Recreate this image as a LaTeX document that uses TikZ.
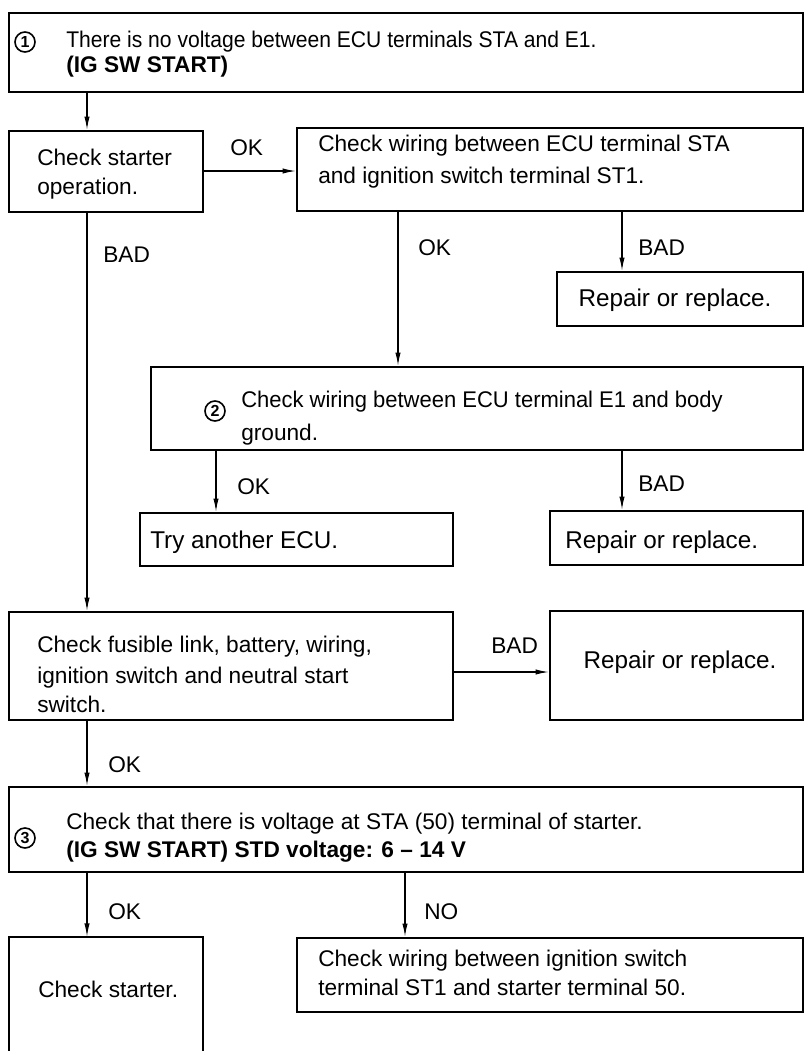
\documentclass[tikz,border=0pt]{standalone}
\usepackage{fontspec}
\setmainfont{Liberation Sans}
\newfontfamily\narrowsans{Liberation Sans}[FakeStretch=0.93]
\newfontfamily\semisans{Liberation Sans}[FakeStretch=0.97]
\usetikzlibrary{fit,arrows.meta}
\begin{document}
\begin{tikzpicture}[x=0.75pt,y=-0.75pt,
  box/.style={draw, line width=1.7pt, inner sep=0pt, fit={#1}},
  boxline/.style={line width=1.7pt},
  txt/.style={anchor=base west, inner sep=0pt, font=\fontsize{17}{20}\selectfont},
  bigtxt/.style={anchor=base west, inner sep=0pt, font=\fontsize{18.2}{21}\selectfont},
  ctxt/.style={anchor=base, inner sep=0pt, font=\fontsize{18.2}{21}\selectfont},
  lbl/.style={anchor=base west, inner sep=0pt, font=\fontsize{17}{20}\selectfont},
  num/.style={circle, draw, line width=1.2pt, inner sep=0pt, minimum size=15pt, font=\fontsize{12}{12}\selectfont\bfseries},
  arr/.style={line width=0.9pt, -{Latex[length=10pt,width=4pt]}}]
\useasboundingbox (0,0) rectangle (806,1051);
\fill[white] (0,0) rectangle (806,1051);
% helper coordinates
\coordinate (x87) at (87,0);
\coordinate (x398) at (398,0);
\coordinate (x622) at (622,0);
\coordinate (x216) at (216,0);
\coordinate (x405) at (405,0);
\coordinate (y171) at (0,171);
\coordinate (y672) at (0,672);
% boxes
\node[box={(9,13) (803,92)}] (b1) {};
\node[box={(9,131) (203,212)}] (b2) {};
\node[box={(297,128) (803,211)}] (b3) {};
\node[box={(557,272) (803,326)}] (b4) {};
\node[box={(151,367) (803,450)}] (b5) {};
\node[box={(140,513) (453,566)}] (b6) {};
\node[box={(550,511) (803,565)}] (b7) {};
\node[box={(9,612) (453,720)}] (b8) {};
\node[box={(550,611) (803,720)}] (b9) {};
\node[box={(9,787) (803,872)}] (b10) {};
\node[inner sep=0pt, fit={(9,937) (203,1051)}] (b11) {};
\draw[boxline] (b11.south west) -- (b11.north west) -- (b11.north east) -- (b11.south east);
\node[box={(297,938) (803,1012)}] (b12) {};
% texts
\node[num] (n1) at (25,42) {1};
\node[txt,font=\fontsize{17}{20}\narrowsans] (t1a) at (66,47) {There is no voltage between ECU terminals STA and E1.};
\node[txt,font=\fontsize{17}{20}\selectfont\bfseries] (t1b) at (66,72) {(IG SW START)};
\node[txt] (t2a) at (37,165) {Check starter};
\node[txt] (t2b) at (37,194) {operation.};
\node[txt] (t3a) at (318,151) {Check wiring between ECU terminal STA};
\node[txt] (t3b) at (318,183) {and ignition switch terminal ST1.};
\node[ctxt] (t4) at (675,306) {Repair or replace.};
\node[num] (n2) at (215,411) {2};
\node[txt,font=\fontsize{17}{20}\semisans] (t5a) at (241,407) {Check wiring between ECU terminal E1 and body};
\node[txt] (t5b) at (241,440) {ground.};
\node[bigtxt] (t6) at (150,548) {Try another ECU.};
\node[bigtxt] (t7) at (565,548) {Repair or replace.};
\node[txt] (t8a) at (37,652) {Check fusible link, battery, wiring,};
\node[txt] (t8b) at (37,683) {ignition switch and neutral start};
\node[txt] (t8c) at (37,712) {switch.};
\node[ctxt] (t9) at (680,668) {Repair or replace.};
\node[num] (n3) at (25,838) {3};
\node[txt] (t10a) at (66,829) {Check that there is voltage at STA (50) terminal of starter.};
\node[txt,font=\fontsize{17}{20}\selectfont\bfseries] (t10b) at (66,857) {(IG SW START) STD voltage: 6 – 14 V};
\node[txt] (t11) at (38,997) {Check starter.};
\node[txt] (t12a) at (318,966) {Check wiring between ignition switch};
\node[txt] (t12b) at (318,995) {terminal ST1 and starter terminal 50.};
% connectors
\draw[arr] (b1.south -| x87) -- (b2.north -| x87);
\draw[arr] (b2.east |- y171) -- (b3.west |- y171);
\draw[arr] (b3.south -| x398) -- (b5.north -| x398);
\draw[arr] (b3.south -| x622) -- (b4.north -| x622);
\draw[arr] (b2.south -| x87) -- (b8.north -| x87);
\draw[arr] (b5.south -| x216) -- (b6.north -| x216);
\draw[arr] (b5.south -| x622) -- (b7.north -| x622);
\draw[arr] (b8.east |- y672) -- (b9.west |- y672);
\draw[arr] (b8.south -| x87) -- (b10.north -| x87);
\draw[arr] (b10.south -| x87) -- (b11.north -| x87);
\draw[arr] (b10.south -| x405) -- (b12.north -| x405);
% labels
\node[lbl] (l1) at (230,155) {OK};
\node[lbl] (l2) at (418,255) {OK};
\node[lbl] (l3) at (638,255) {BAD};
\node[lbl] (l4) at (103,262) {BAD};
\node[lbl] (l5) at (237,494) {OK};
\node[lbl] (l6) at (638,491) {BAD};
\node[lbl] (l7) at (491,653) {BAD};
\node[lbl] (l8) at (108,772) {OK};
\node[lbl] (l9) at (108,919) {OK};
\node[lbl] (l10) at (424,919) {NO};
\end{tikzpicture}
\end{document}
